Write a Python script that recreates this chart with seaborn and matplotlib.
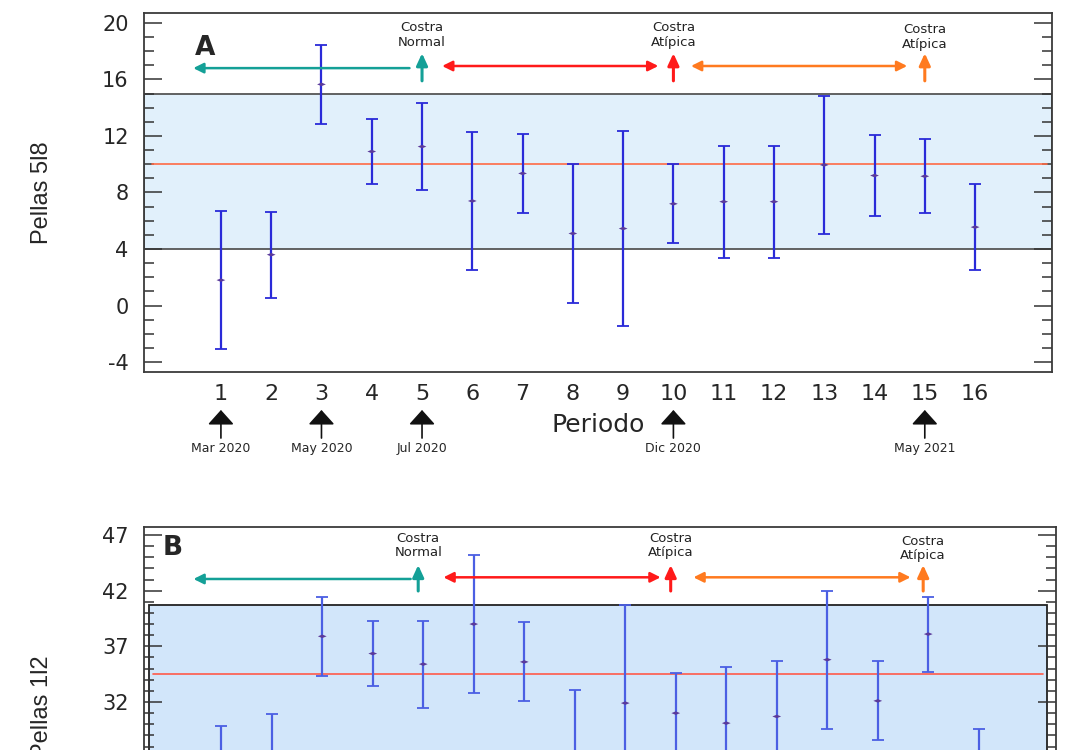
import matplotlib
matplotlib.use("Agg")
import matplotlib.pyplot as plt
from matplotlib.ticker import MultipleLocator
import seaborn as sns

# periodos de muestreo
periodos = list(range(1, 17))

# panel A: pellas 5/8 (media y desviacion)
media_58 = [1.8, 3.6, 15.65, 10.9, 11.25, 7.4, 9.35, 5.1, 5.45, 7.2, 7.35, 7.35, 9.95, 9.2, 9.15, 5.55]
error_58 = [4.9, 3.05, 2.8, 2.3, 3.05, 4.85, 2.8, 4.9, 6.9, 2.8, 3.95, 3.95, 4.87, 2.85, 2.6, 3.05]
ref_58 = 10.0
banda_58 = (4.0, 15.0)

# panel B: pellas 1/2
media_12 = [25.4, 26.4, 37.9, 36.35, 35.4, 39.0, 35.6, 27.5, 31.9, 31.0, 30.1, 30.7, 35.8, 32.1, 38.1, 26.0]
error_12 = [4.4, 4.5, 3.55, 2.93, 3.9, 6.2, 3.55, 5.6, 8.8, 3.6, 5.0, 5.0, 6.2, 3.55, 3.37, 3.6]
ref_12 = 34.5
banda_12 = (21.0, 40.7)

# eventos de costra
eventos = [5, 10, 15]
eventos_txt = ["Costra\nNormal", "Costra\nAtípica", "Costra\nAtípica"]
eventos_col = ["#14a097", "#ff1a1a", "#ff7a1f"]
tramos = [(4.75, 0.45), (5.4, 9.7), (10.35, 14.65)]

# fechas bajo el eje x
fechas_per = [1, 3, 5, 10, 15]
fechas_txt = ["Mar 2020", "May 2020", "Jul 2020", "Dic 2020", "May 2021"]

sns.set_style("ticks")
plt.rcParams["font.family"] = ["DejaVu Sans"]
plt.rcParams["axes.unicode_minus"] = False

fig = plt.figure(figsize=(10.83, 7.5), dpi=100)
axA = fig.add_axes([0.13296, 0.504, 0.83841, 0.47867])
axB = fig.add_axes([0.13296, -0.18133, 0.84211, 0.47867])

config = [
    dict(ax=axA, med=media_58, err=error_58, ref=ref_58, banda=banda_58,
         ylim=(-4.7, 20.7), major=4, base=-4, ylabel="Pellas 5l8", letra="A",
         letra_x=0.056, letra_y=0.9025, band_fc="#e1f0fb", band_x=(0, 1),
         ref_x=(0.009, 0.995), ref_col="#ff6a45", bar_col="#2a2ad8",
         y_h=(16.8, 16.95), y_up=(15.9, 17.85), y_txt=(19.15, 19.15, 19.0), dx=0.0),
    dict(ax=axB, med=media_12, err=error_12, ref=ref_12, banda=banda_12,
         ylim=(15.47, 47.72), major=5, base=17, ylabel="Pellas 1l2", letra="B",
         letra_x=0.02, letra_y=0.9415, band_fc="#d2e6fa", band_x=(0.0055, 0.99),
         ref_x=(0.01, 0.986), ref_col="#ff5a4a", bar_col="#4b5fe3",
         y_h=(43.05, 43.2), y_up=(41.97, 44.3), y_txt=(46.06, 46.06, 45.8), dx=-0.1),
]

diamante = [(-1, 0), (0, 0.4), (1, 0), (0, -0.4), (-1, 0)]

for c in config:
    ax = c["ax"]
    ax.set_xlim(-0.53, 17.53)
    ax.set_ylim(*c["ylim"])

    # banda de referencia y linea media
    if c["letra"] == "A":
        ax.axhspan(*c["banda"], facecolor=c["band_fc"], edgecolor="#555555", lw=1.3, zorder=0)
    else:
        ax.axhspan(*c["banda"], xmin=c["band_x"][0], xmax=c["band_x"][1],
                   facecolor=c["band_fc"], edgecolor="#222222", lw=1.3, zorder=0)
    ax.axhline(c["ref"], xmin=c["ref_x"][0], xmax=c["ref_x"][1], color=c["ref_col"], lw=1.2, zorder=1)

    ax.errorbar(periodos, c["med"], yerr=c["err"], fmt="none", ecolor=c["bar_col"],
                elinewidth=1.6, capsize=4, capthick=1.3, zorder=3)
    sns.scatterplot(x=periodos, y=c["med"], ax=ax, marker=diamante, s=40,
                    color="#5a3a9a", edgecolor="none", zorder=4, legend=False)

    # flechas y textos de eventos
    for i, (p, txt, col) in enumerate(zip(eventos, eventos_txt, eventos_col)):
        estilo = "-|>" if i == 0 else "<|-|>"
        yh = c["y_h"][0] if i == 0 else c["y_h"][1]
        ax.annotate("", xy=(tramos[i][1], yh), xytext=(tramos[i][0], yh),
                    arrowprops=dict(arrowstyle=estilo + ",head_width=0.3,head_length=0.6",
                                    color=col, lw=1.8, mutation_scale=10, shrinkA=0, shrinkB=0))
        ax.annotate("", xy=(p + c["dx"], c["y_up"][1]), xytext=(p + c["dx"], c["y_up"][0]),
                    arrowprops=dict(arrowstyle="-|>,head_width=0.3,head_length=0.65",
                                    color=col, lw=2.2, mutation_scale=11, shrinkA=0, shrinkB=0))
        ax.text(p + c["dx"], c["y_txt"][i], txt, ha="center", va="center",
                fontsize=9.5, linespacing=1.15, color="#222222")

    ax.text(c["letra_x"], c["letra_y"], c["letra"], transform=ax.transAxes,
            fontsize=19, fontweight="heavy", ha="left", va="center")

    # ejes y ticks
    ax.set_xticks(periodos)
    ax.set_xticklabels([str(p) for p in periodos])
    ax.yaxis.set_major_locator(MultipleLocator(c["major"], offset=c["base"] % c["major"]))
    ax.yaxis.set_minor_locator(MultipleLocator(1))
    ax.tick_params(axis="x", length=0, labelsize=16, pad=9)
    ax.tick_params(axis="y", which="both", direction="in", left=True, right=True,
                   labelsize=15, pad=11, color="#333333", width=1.1)
    ax.tick_params(axis="y", which="major", length=13)
    ax.tick_params(axis="y", which="minor", length=7)
    for sp in ax.spines.values():
        sp.set_color("#3a3a3a")
        sp.set_linewidth(1.3)
        sp.set_visible(True)

    ax.set_ylabel(c["ylabel"], fontsize=17, family=["Liberation Sans", "DejaVu Sans"])
    ax.yaxis.set_label_coords(-0.10, 0.5)

# el eje x del panel B queda fuera de la imagen
axB.tick_params(axis="x", labelbottom=False)

# etiqueta del eje x y fechas en el panel A
axA.set_xlabel("Periodo", fontsize=18)
axA.xaxis.set_label_coords(0.5, -0.115)
trans = axA.get_xaxis_transform()
for p, txt in zip(fechas_per, fechas_txt):
    axA.annotate("", xy=(p, -0.1058), xytext=(p, -0.184), xycoords=trans, textcoords=trans,
                 arrowprops=dict(arrowstyle="-|>,head_width=0.45,head_length=0.5",
                                 color="#111111", lw=1.2, mutation_scale=18, shrinkA=0, shrinkB=0),
                 annotation_clip=False)
    axA.text(p, -0.212, txt, transform=trans, ha="center", va="center", fontsize=9)

fig.savefig("out.png", dpi=100)
